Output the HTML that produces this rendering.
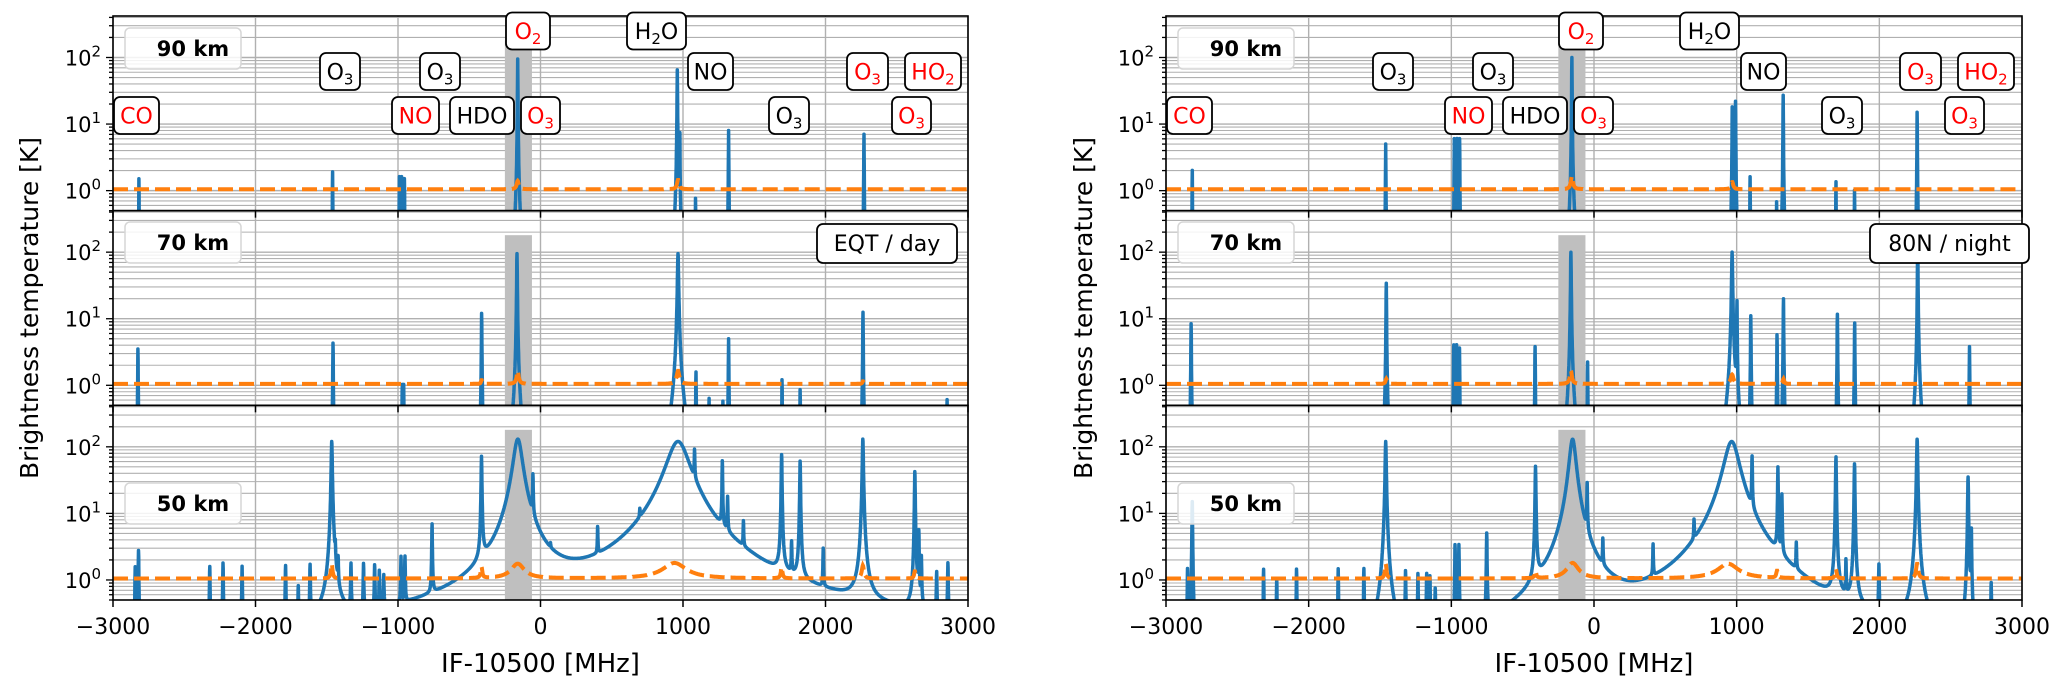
<!DOCTYPE html>
<html><head><meta charset="utf-8"><style>
html,body{margin:0;padding:0;background:#fff;}
svg{display:block;font-family:"DejaVu Sans","Liberation Sans",sans-serif;}
</style></head><body>
<svg id="chart" width="2067" height="688" viewBox="0 0 2067 688" xmlns="http://www.w3.org/2000/svg">
<defs id="defs"></defs>
<g id="layer-grid"></g>
<g id="layer-band"></g>
<g id="layer-data"></g>
<g id="layer-axes"></g>
<g id="layer-labels"></g>
</svg>
<script>
// ---- x axis ----
const xTicks = [-3000,-2000,-1000,0,1000,2000,3000];
const xTickLabels = ["\u22123000","\u22122000","\u22121000","0","1000","2000","3000"];
const bandRange = [-250,-60];
const bandTop = 180;

// ---- EQT / day ----
const eqt90Freq = [-2818,-1459,-990,-975,-955,-160,960,978,1088,1320,2270];
const eqt90Height = [1.5,1.9,1.6,1.6,1.5,95,65,7,0.75,8,7];
const eqt90Width = [1.2,1.2,1.2,1.2,1.2,1.3,1.5,1.2,1.2,1.2,1.2];
const eqt70Freq = [-2825,-1456,-970,-960,-413,-165,965,1091,1183,1280,1320,1695,1822,2263,2853];
const eqt70Height = [3.5,4.3,1.0,1.0,12,95,95,1.5,0.6,0.55,5,1.2,0.85,12.5,0.6];
const eqt70Width = [1.5,1.5,1.5,1.5,1.5,2,3.5,1.5,1.5,1.5,1.5,1.5,1.5,1.5,1.5];
const eqt50Freq = [-2844,-2821,-2321,-2228,-2094,-1789,-1700,-1617,-1465,-1440,-1420,-1330,-1242,-1164,-1131,-1100,-979,-951,-761,-414,-159,-53,70,401,697,965,1081,1276,1313,1424,1692,1762,1822,1984,2262,2627,2655,2673,2780,2859];
const eqt50Height = [1.4,2.6,1.4,1.6,1.4,1.4,0.55,1.4,120,1.5,1.3,1.4,1.4,1.3,1.0,0.8,1.8,1.8,6.3,70,130,29,0.5,3.8,3,120,57,55,12.5,4.5,75,2.5,60,2.2,130,42,5,1.8,1,1.5];
const eqt50Width = [2,2,2,2,2,2,2,2,3.5,2,2,2,2,2,2,2,2,2,2,2.5,30,2,2,2,2,75,2,2,2,2,2.5,2,2.5,2,3.5,2.5,2,2,2,2];
const eqt50Continuum = 0.1;

// ---- 80N / night ----
const n90Freq = [-2816,-1460,-979,-960,-942,-155,969,992,1094,1280,1326,1696,1826,2265];
const n90Height = [2,5,6,6,6,100,18,22,1.6,0.65,27,1.35,1.0,15];
const n90Width = [1.2,1.2,1.2,1.2,1.2,1.3,1.3,1.3,1.2,1.2,1.2,1.2,1.2,1.2];
const n70Freq = [-2824,-1456,-983,-963,-943,-413,-162,-45,968,1002,1099,1283,1328,1706,1827,2269,2632];
const n70Height = [8.4,34,4,4,3.6,3.8,100,2.2,100,18,11,5.7,20,11.7,8.6,150,3.8];
const n70Width = [1.5,1.5,1.5,1.5,1.5,1.5,2,1.5,3,1.5,1.5,1.5,1.5,1.5,1.5,1.5,1.5];
const n50Freq = [-2849,-2816,-2316,-2224,-2085,-1793,-1613,-1460,-1321,-1234,-1173,-1150,-1113,-974,-947,-752,-410,-150,-48,62,414,701,965,1108,1289,1317,1418,1696,1766,1826,1997,2265,2622,2645,2784];
const n50Height = [1.4,15,1.4,1.0,1.4,1.4,1.35,120,1.2,1.1,1.1,1.0,0.6,3.2,3.2,4.8,50,130,23,2.5,2.3,4,120,60,47,17,2.2,70,1.4,55,1.4,130,35,5.5,0.8];
const n50Width = [2,2,2,2,2,2,2,3.5,2,2,2,2,2,2,2,2,2.5,22,2,2,2,2,50,2,2,2,2,2.5,2,2.5,2,3.5,2.5,2,2];
const n50Continuum = 0.0;

// ---- noise level (orange dashed) ----
const noiseBase = 1.05;
const eqt90NoiseFreq = [-160,965]; const eqt90NoiseBump = [0.35,0.4]; const eqt90NoiseWidth = [8,8];
const eqt70NoiseFreq = [-413,-160,965,2263]; const eqt70NoiseBump = [0.15,0.6,0.6,0.1]; const eqt70NoiseWidth = [5,8,10,5];
const eqt50NoiseFreq = [-1465,-414,-160,940,1692,2262,2627]; const eqt50NoiseBump = [0.7,0.5,0.7,0.75,0.5,0.6,0.3]; const eqt50NoiseWidth = [6,6,50,90,6,8,6];
const n90NoiseFreq = [-155,969]; const n90NoiseBump = [0.6,0.3]; const n90NoiseWidth = [8,8];
const n70NoiseFreq = [-1456,-162,968,1328]; const n70NoiseBump = [0.2,0.6,0.4,0.2]; const n70NoiseWidth = [6,8,10,6];
const n50NoiseFreq = [-1460,-410,-150,940,1283,1696,2265]; const n50NoiseBump = [0.7,0.3,0.75,0.7,0.3,0.4,0.7]; const n50NoiseWidth = [6,6,45,80,6,6,8];

// ---- annotations ----
const altLabels = ["90 km","70 km","50 km"];
const speciesText = ["CO","O","O","NO","HDO","O","O","H","NO","O","O","HO","O"];
const speciesSub  = ["","3","3","","","3","2","2","","3","3","2","3"];
const speciesTail = ["","","","","","","","O","","","","",""];
const speciesRed  = [true,false,false,true,false,true,true,false,false,false,true,true,true];
const speciesRow  = [2,1,1,2,2,2,0,0,1,2,1,1,2];

const NS="http://www.w3.org/2000/svg";
function mk(tag, attrs, parent){const e=document.createElementNS(NS,tag);for(const k in attrs)e.setAttribute(k,attrs[k]);parent.appendChild(e);return e;}

const sides=[{x0:113,x1:968,name:"left"},{x0:1166,x1:2022,name:"right"}];
const panelTop=[16,210.67,405.33], panelH=194.67;
const yMin=0.5, yMax=420;
function xs(f,s){return s.x0+(f+3000)/6000*(s.x1-s.x0);}
function ys(v,p){const lv=Math.log10(Math.max(v,1e-4));const t=(lv-Math.log10(yMin))/(Math.log10(yMax)-Math.log10(yMin));return panelTop[p]+panelH*(1-t);}

const defs=document.getElementById('defs');
const gGrid=document.getElementById('layer-grid'),gBand=document.getElementById('layer-band'),gData=document.getElementById('layer-data'),gAx=document.getElementById('layer-axes'),gLab=document.getElementById('layer-labels');

const series=[
 [[eqt90Freq,eqt90Height,eqt90Width,0.01,eqt90NoiseFreq,eqt90NoiseBump,eqt90NoiseWidth],
  [eqt70Freq,eqt70Height,eqt70Width,0.01,eqt70NoiseFreq,eqt70NoiseBump,eqt70NoiseWidth],
  [eqt50Freq,eqt50Height,eqt50Width,eqt50Continuum,eqt50NoiseFreq,eqt50NoiseBump,eqt50NoiseWidth]],
 [[n90Freq,n90Height,n90Width,0.01,n90NoiseFreq,n90NoiseBump,n90NoiseWidth],
  [n70Freq,n70Height,n70Width,0.01,n70NoiseFreq,n70NoiseBump,n70NoiseWidth],
  [n50Freq,n50Height,n50Width,n50Continuum,n50NoiseFreq,n50NoiseBump,n50NoiseWidth]]
];
function lor(f,F,H,W){let s=0;for(let i=0;i<F.length;i++){const d=f-F[i];s+=H[i]*W[i]*W[i]/(d*d+W[i]*W[i]);}return s;}

sides.forEach((s,si)=>{
 for(let p=0;p<3;p++){
  const top=panelTop[p],bot=top+panelH;
  const cid='clip'+si+p;
  const cp=mk('clipPath',{id:cid},defs);
  mk('rect',{x:s.x0,y:top,width:s.x1-s.x0,height:panelH},cp);
  for(let e=-1;e<=2;e++){for(let m=1;m<10;m++){const v=m*Math.pow(10,e);if(v<yMin||v>yMax)continue;const y=ys(v,p);
   const gl=mk('line',{x1:s.x0,x2:s.x1,y1:y,y2:y,stroke:'#b0b0b0','stroke-width':m===1?1.4:1.1},gGrid);
   
   
   const tk=mk('line',{x1:s.x0,x2:s.x0-(m===1?7:4),y1:y,y2:y,stroke:'#000','stroke-width':1.3},gAx);
   
   
   if(m===1){const t=mk('text',{x:s.x0-12,y:y+8,'text-anchor':'end','font-size':21},gAx);t.innerHTML='10<tspan dy="-9" font-size="15">'+e+'</tspan>';
    
    }
  }}
  xTicks.forEach((f,i)=>{const x=xs(f,s);
   const gl=mk('line',{x1:x,x2:x,y1:top,y2:bot,stroke:'#b0b0b0','stroke-width':1.4},gGrid);
   
   
   const tk=mk('line',{x1:x,x2:x,y1:bot,y2:bot+7,stroke:'#000','stroke-width':1.5},gAx);
   
   
   if(p===2){const t=mk('text',{x:x,y:634,'text-anchor':'middle','font-size':22},gAx);t.textContent=xTickLabels[i];
    
    }
  });
  const b=mk('rect',{x:xs(bandRange[0],s),y:ys(bandTop,p),width:xs(bandRange[1],s)-xs(bandRange[0],s),height:bot-ys(bandTop,p),fill:'#bfbfbf'},gBand);
  
  
  const [F,H,W,C,NF,NB,NW]=series[si][p];
  let d='',dn='';
  for(let f=-3000;f<=3000;f+=1){const v=C+lor(f,F,H,W);d+=(f===-3000?'M':'L')+xs(f,s).toFixed(1)+' '+Math.min(ys(v,p),bot+10).toFixed(1);}
  for(let f=-3000;f<=3000;f+=2){const v=noiseBase+lor(f,NF,NB,NW);dn+=(f===-3000?'M':'L')+xs(f,s).toFixed(1)+' '+ys(v,p).toFixed(1);}
  const g=mk('g',{'clip-path':'url(#'+cid+')'},gData);
  
  
  const pl=mk('path',{d:d,fill:'none',stroke:'#1f77b4','stroke-width':3.5,'stroke-linejoin':'round'},g);
  
  
  const nl=mk('path',{d:dn,fill:'none',stroke:'#ff7f0e','stroke-width':4,'stroke-dasharray':'15 6'},g);
  
  
  const sp=mk('rect',{x:s.x0,y:top,width:s.x1-s.x0,height:panelH,fill:'none',stroke:'#000','stroke-width':1.6},gAx);
  
  
  const ly=[28,222,483][p];
  const lb=mk('rect',{x:s.x0+12,y:ly,width:116,height:41,rx:5,fill:'#fff','fill-opacity':0.85,stroke:'#d6d6d6','stroke-width':1.5},gLab);
  
  
  const lt=mk('text',{x:s.x0+80,y:ly+28,'text-anchor':'middle','font-size':21,'font-weight':'bold'},gLab);
  lt.textContent=altLabels[p];
  
  
 }
 const yl=mk('text',{x:0,y:0,'text-anchor':'middle','font-size':25,transform:'translate('+(si===0?38:1092)+',308) rotate(-90)'},gAx);
 yl.textContent='Brightness temperature [K]';
 
 
 const xl=mk('text',{x:(s.x0+s.x1)/2,y:672,'text-anchor':'middle','font-size':26},gAx);
 xl.textContent='IF-10500 [MHz]';
 
 
 const cx=si===0?[817,140,'EQT / day']:[1870,159,'80N / night'];
 const cb=mk('rect',{x:cx[0],y:224,width:cx[1],height:39,rx:6,fill:'#fff',stroke:'#000','stroke-width':1.8},gLab);
 
 
 const ct=mk('text',{x:cx[0]+cx[1]/2,y:251,'text-anchor':'middle','font-size':22},gLab);
 ct.textContent=cx[2];
 
 
 const speciesCx=[136.5,340,440,415.5,482,540.5,528,656.5,710.5,789,867.5,933,911.5];
 const speciesW=[45,40,40,47,64,39,44,59,45,40,41,56,39];
 const rowCy=[31,71.5,115.5];
 speciesText.forEach((tx,i)=>{
  const x=speciesCx[i]+(si===0?0:1053), y=rowCy[speciesRow[i]];
  const r=mk('rect',{x:x-speciesW[i]/2,y:y-18.5,width:speciesW[i],height:37,rx:6,fill:'#fff',stroke:'#000','stroke-width':1.8},gLab);
  
  
  const t=mk('text',{x:x,y:y+8,'text-anchor':'middle','font-size':22,fill:speciesRed[i]?'#ff0000':'#000'},gLab);
  t.innerHTML=tx+(speciesSub[i]?'<tspan dy="5" font-size="15">'+speciesSub[i]+'</tspan>':'')+(speciesTail[i]?'<tspan dy="-5">'+speciesTail[i]+'</tspan>':'');
  
  
 });
});
</script>
</body></html>
